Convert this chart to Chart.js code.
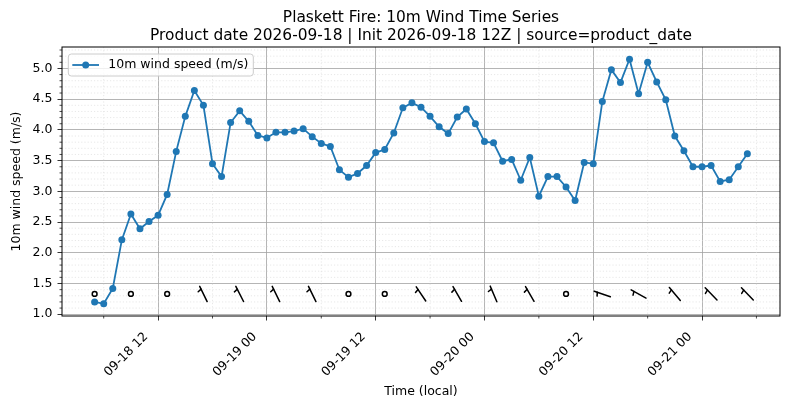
<!DOCTYPE html>
<html>
<head>
<meta charset="utf-8">
<title>Plaskett Fire: 10m Wind Time Series</title>
<script src="https://cdn.jsdelivr.net/npm/chart.js@4.4.1/dist/chart.umd.min.js"></script>
<style>
  html, body { margin: 0; padding: 0; background: #fff; }
</style>
</head>
<body>
<canvas id="windChart" width="790" height="409"></canvas>
<script>
// hours since 09-18 00 (local), hourly from 09-18 05 to 09-21 05
const hours = [
  5, 6, 7, 8, 9, 10, 11, 12, 13, 14, 15, 16, 17, 18, 19, 20, 21, 22, 23, 24,
  25, 26, 27, 28, 29, 30, 31, 32, 33, 34, 35, 36, 37, 38, 39, 40, 41, 42, 43, 44,
  45, 46, 47, 48, 49, 50, 51, 52, 53, 54, 55, 56, 57, 58, 59, 60, 61, 62, 63, 64,
  65, 66, 67, 68, 69, 70, 71, 72, 73, 74, 75, 76, 77
];
const windSpeed = [
  1.20, 1.17, 1.42, 2.21, 2.63, 2.39, 2.51, 2.61, 2.95, 3.65, 4.22, 4.64, 4.40, 3.45, 3.24, 4.12, 4.31, 4.14, 3.91, 3.87,
  3.96, 3.96, 3.98, 4.02, 3.89, 3.78, 3.73, 3.35, 3.23, 3.29, 3.42, 3.63, 3.68, 3.95, 4.36, 4.44, 4.37, 4.22, 4.05, 3.94,
  4.21, 4.34, 4.10, 3.81, 3.79, 3.49, 3.52, 3.18, 3.55, 2.92, 3.24, 3.24, 3.07, 2.85, 3.47, 3.45, 4.46, 4.98, 4.77, 5.15,
  4.59, 5.10, 4.78, 4.49, 3.90, 3.66, 3.40, 3.40, 3.42, 3.16, 3.19, 3.40, 3.61
];

// wind barbs every 4 h; direction the barb shaft points to (deg from north), null = calm
const barbHours = [5, 9, 13, 17, 21, 25, 29, 33, 37, 41, 45, 49, 53, 57, 61, 65, 69, 73, 77];
const barbDir = [null, null, null, 334, 333, 334, 334, null, null, 326, 330, 337, 330, null, 289, 299, 320, 316, 316];
const barbLevel = 1.33;

const xMajorTicks = [12, 24, 36, 48, 60, 72];
const xTickLabels = ['09-18 12', '09-19 00', '09-19 12', '09-20 00', '09-20 12', '09-21 00'];
const xMinorTicks = [6, 18, 30, 42, 54, 66, 78];
const yTicks = [1.0, 1.5, 2.0, 2.5, 3.0, 3.5, 4.0, 4.5, 5.0];
const yTickLabels = ['1.0', '1.5', '2.0', '2.5', '3.0', '3.5', '4.0', '4.5', '5.0'];

const titleLines = [
  'Plaskett Fire: 10m Wind Time Series',
  'Product date 2026-09-18 | Init 2026-09-18 12Z | source=product_date'
];

// matplotlib-like 5% margins
const xSpan = hours[hours.length - 1] - hours[0];
const xMin = hours[0] - 0.05 * xSpan;
const xMax = hours[hours.length - 1] + 0.05 * xSpan;
const ySpan = Math.max(...windSpeed) - Math.min(...windSpeed);
const yMin = Math.min(...windSpeed) - 0.05 * ySpan;
const yMax = Math.max(...windSpeed) + 0.05 * ySpan;

const yMinorTicks = [];
for (let k = 1; k <= 60; k++) {
  const v = k / 10;
  if (k % 5 !== 0 && v > yMin && v < yMax) yMinorTicks.push(v);
}

Chart.defaults.font.family = "'DejaVu Sans', sans-serif";
Chart.defaults.color = '#000';

function seg(ctx, x1, y1, x2, y2) {
  ctx.beginPath();
  ctx.moveTo(x1, y1);
  ctx.lineTo(x2, y2);
  ctx.stroke();
}

// minor grid, spines, minor ticks, barbs, legend and title
const decor = {
  id: 'decor',
  beforeDatasetsDraw(chart) {
    const { ctx, chartArea: a, scales: { x, y } } = chart;
    ctx.save();
    ctx.strokeStyle = '#d8d8d8';
    ctx.lineWidth = 0.6;
    ctx.setLineDash([1.2, 2]);
    xMinorTicks.forEach(h => {
      const px = x.getPixelForValue(h);
      if (px > a.left && px < a.right) seg(ctx, px, a.top, px, a.bottom);
    });
    yMinorTicks.forEach(v => {
      const py = y.getPixelForValue(v);
      seg(ctx, a.left, py, a.right, py);
    });
    ctx.restore();
  },
  afterDatasetsDraw(chart) {
    const { ctx, chartArea: a, scales: { x, y } } = chart;
    ctx.save();

    // barbs
    const L = 17;
    ctx.strokeStyle = '#000';
    ctx.lineWidth = 1.5;
    ctx.lineCap = 'round';
    barbHours.forEach((h, i) => {
      const cx = x.getPixelForValue(h);
      const cy = y.getPixelForValue(barbLevel);
      const dir = barbDir[i];
      if (dir === null) {
        ctx.beginPath();
        ctx.arc(cx, cy, 2.4, 0, Math.PI * 2);
        ctx.stroke();
        return;
      }
      const r = dir * Math.PI / 180;
      const dx = Math.sin(r), dy = -Math.cos(r);
      const fx = cx + dx * L / 2, fy = cy + dy * L / 2;
      seg(ctx, cx - dx * L / 2, cy - dy * L / 2, fx, fy);
      // half barb, offset from the end
      const px = fx - dx * 0.1875 * L, py = fy - dy * 0.1875 * L;
      const nx = dy, ny = -dx;
      seg(ctx, px, py, px + nx * 0.22 * L - dx * 0.0625 * L, py + ny * 0.22 * L - dy * 0.0625 * L);
    });

    // minor tick marks
    ctx.lineCap = 'butt';
    ctx.lineWidth = 0.7;
    xMinorTicks.forEach(h => {
      const px = x.getPixelForValue(h);
      if (px > a.left && px < a.right) seg(ctx, px, a.bottom, px, a.bottom + 2.5);
    });
    yMinorTicks.forEach(v => {
      const py = y.getPixelForValue(v);
      seg(ctx, a.left, py, a.left - 2.5, py);
    });

    // spines
    ctx.lineWidth = 1;
    ctx.strokeRect(a.left, a.top, a.right - a.left, a.bottom - a.top);

    // legend
    const ds = chart.data.datasets[0];
    const lx = a.left + 6.3, ly = a.top + 7, lw = 185, lh = 22, my = ly + lh / 2;
    ctx.beginPath();
    ctx.roundRect(lx, ly, lw, lh, 3);
    ctx.fillStyle = 'rgba(255,255,255,0.8)';
    ctx.fill();
    ctx.strokeStyle = '#cccccc';
    ctx.lineWidth = 1;
    ctx.stroke();
    ctx.strokeStyle = ds.borderColor;
    ctx.lineWidth = ds.borderWidth;
    seg(ctx, lx + 4, my, lx + 30.7, my);
    ctx.fillStyle = ds.borderColor;
    ctx.beginPath();
    ctx.arc(lx + 17.4, my, ds.pointRadius, 0, Math.PI * 2);
    ctx.fill();
    ctx.fillStyle = '#000';
    ctx.font = "12.5px 'DejaVu Sans', sans-serif";
    ctx.textAlign = 'left';
    ctx.textBaseline = 'middle';
    ctx.fillText(ds.label, lx + 40, my);

    // title
    ctx.font = "15.4px 'DejaVu Sans', sans-serif";
    ctx.textAlign = 'center';
    ctx.textBaseline = 'alphabetic';
    const tx = (a.left + a.right) / 2;
    ctx.fillText(titleLines[0], tx, 21.5);
    ctx.fillText(titleLines[1], tx, 39.5);
    ctx.restore();
  }
};

const gridStyle = { color: '#a2a2a2', lineWidth: 0.8, tickLength: 4.5, tickColor: '#000', tickWidth: 0.8 };

new Chart(document.getElementById('windChart'), {
  type: 'line',
  data: {
    datasets: [{
      label: '10m wind speed (m/s)',
      data: hours.map((h, i) => ({ x: h, y: windSpeed[i] })),
      borderColor: '#1f77b4',
      backgroundColor: '#1f77b4',
      pointBackgroundColor: '#1f77b4',
      borderWidth: 1.8,
      pointRadius: 3.5,
      pointHoverRadius: 3.5,
      pointBorderWidth: 0,
      tension: 0,
      fill: false
    }]
  },
  options: {
    responsive: false,
    animation: false,
    events: [],
    layout: { padding: { left: 0, right: 10, top: 47, bottom: 0 } },
    plugins: {
      legend: { display: false },
      title: { display: false },
      tooltip: { enabled: false }
    },
    scales: {
      x: {
        type: 'linear',
        min: xMin,
        max: xMax,
        afterBuildTicks: s => { s.ticks = xMajorTicks.map(v => ({ value: v })); },
        afterFit: s => { s.height = 93; },
        ticks: {
          autoSkip: false,
          minRotation: 45,
          maxRotation: 45,
          padding: 9,
          labelOffset: -12,
          font: { size: 12.5 },
          callback: v => xTickLabels[xMajorTicks.indexOf(v)]
        },
        grid: gridStyle,
        border: { display: false },
        title: { display: true, text: 'Time (local)', font: { size: 12.5 }, padding: { top: 0, bottom: 10 } }
      },
      y: {
        type: 'linear',
        min: yMin,
        max: yMax,
        afterBuildTicks: s => { s.ticks = yTicks.map(v => ({ value: v })); },
        afterFit: s => { s.width = 62; },
        ticks: {
          padding: 5,
          font: { size: 12.5 },
          callback: v => yTickLabels[yTicks.indexOf(v)]
        },
        grid: gridStyle,
        border: { display: false },
        title: { display: true, text: '10m wind speed (m/s)', font: { size: 12.5 }, padding: { top: 9.5, bottom: 0 } }
      }
    }
  },
  plugins: [decor]
});
</script>
</body>
</html>
